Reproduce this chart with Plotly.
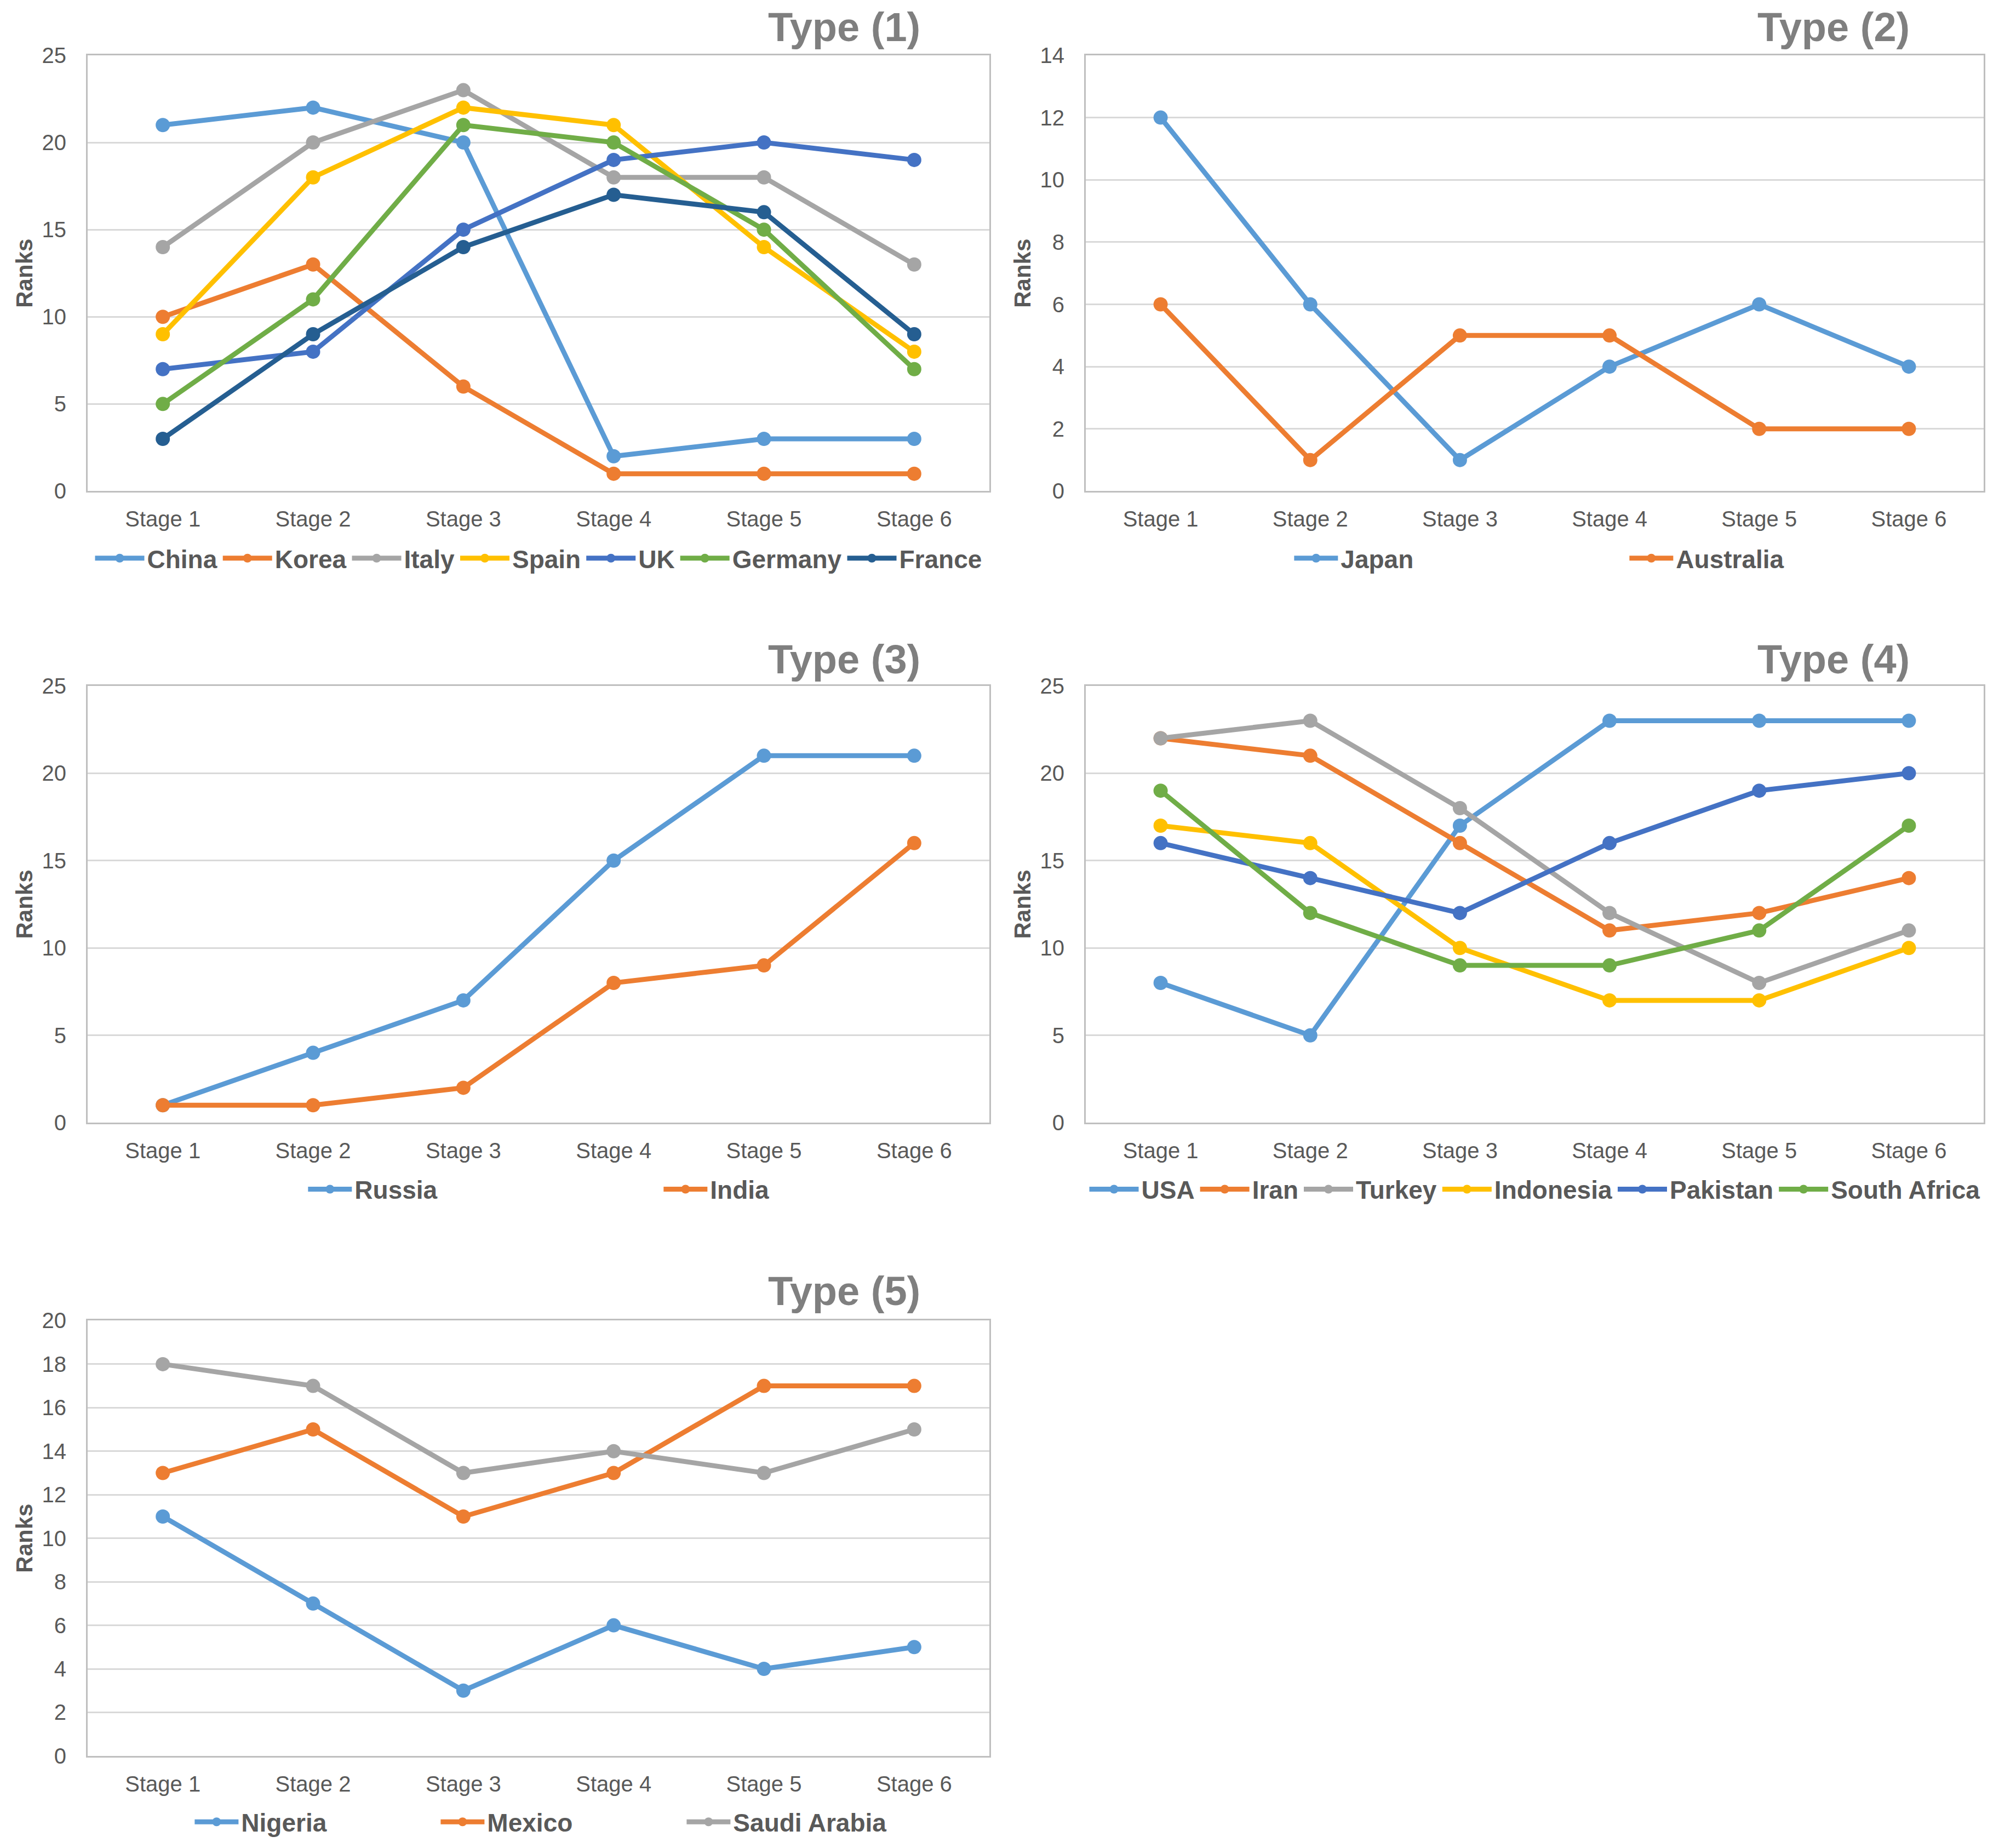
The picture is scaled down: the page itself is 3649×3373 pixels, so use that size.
import plotly.graph_objects as go

stages = ["Stage 1", "Stage 2", "Stage 3", "Stage 4", "Stage 5", "Stage 6"]

# Type (1)
china = [21, 22, 20, 2, 3, 3]
korea = [10, 13, 6, 1, 1, 1]
italy = [14, 20, 23, 18, 18, 13]
spain = [9, 18, 22, 21, 14, 8]
uk = [7, 8, 15, 19, 20, 19]
germany = [5, 11, 21, 20, 15, 7]
france = [3, 9, 14, 17, 16, 9]

# Type (2)
japan = [12, 6, 1, 4, 6, 4]
australia = [6, 1, 5, 5, 2, 2]

# Type (3)
russia = [1, 4, 7, 15, 21, 21]
india = [1, 1, 2, 8, 9, 16]

# Type (4)
usa = [8, 5, 17, 23, 23, 23]
iran = [22, 21, 16, 11, 12, 14]
turkey = [22, 23, 18, 12, 8, 11]
indonesia = [17, 16, 10, 7, 7, 10]
pakistan = [16, 14, 12, 16, 19, 20]
south_africa = [19, 12, 9, 9, 11, 17]

# Type (5)
nigeria = [11, 7, 3, 6, 4, 5]
mexico = [13, 15, 11, 13, 17, 17]
saudi = [18, 17, 13, 14, 13, 15]

C_BLUE = "#5B9BD5"
C_ORANGE = "#ED7D31"
C_GRAY = "#A5A5A5"
C_YELLOW = "#FFC000"
C_DBLUE = "#4472C4"
C_GREEN = "#70AD47"
C_NAVY = "#255E91"

panels = [
    ("Type (1)", [("China", china, C_BLUE), ("Korea", korea, C_ORANGE), ("Italy", italy, C_GRAY),
                  ("Spain", spain, C_YELLOW), ("UK", uk, C_DBLUE), ("Germany", germany, C_GREEN),
                  ("France", france, C_NAVY)], 25, 5),
    ("Type (2)", [("Japan", japan, C_BLUE), ("Australia", australia, C_ORANGE)], 14, 2),
    ("Type (3)", [("Russia", russia, C_BLUE), ("India", india, C_ORANGE)], 25, 5),
    ("Type (4)", [("USA", usa, C_BLUE), ("Iran", iran, C_ORANGE), ("Turkey", turkey, C_GRAY),
                  ("Indonesia", indonesia, C_YELLOW), ("Pakistan", pakistan, C_DBLUE),
                  ("South Africa", south_africa, C_GREEN)], 25, 5),
    ("Type (5)", [("Nigeria", nigeria, C_BLUE), ("Mexico", mexico, C_ORANGE),
                  ("Saudi Arabia", saudi, C_GRAY)], 20, 2),
]

W, H = 3649, 3373
xL = [160 / W, 1806 / W]
xR = [1982 / W, 3621 / W]
rows = [[1 - 886 / H, 1 - 80 / H], [1 - 2054 / H, 1 - 1246 / H], [1 - 3225 / H, 1 - 2420 / H]]
xdoms = [xL, xR, xL, xR, xL]
ydoms = [rows[0], rows[0], rows[1], rows[1], rows[2]]
title_x = [1682 / W, 3488 / W, 1682 / W, 3488 / W, 1682 / W]
title_y = [1 - 28 / H, 1 - 28 / H, 1 - 1197 / H, 1 - 1197 / H, 1 - 2365 / H]
legend_y = [1 - 1010 / H, 1 - 1010 / H, 1 - 2177 / H, 1 - 2177 / H, 1 - 3347 / H]
legend_entry = [None, 517, 554, None, 354]
legend_shift = [0, 0.0460, 0.0612, 0, 0.0112]
legend_itemw = [90, 80, 80, 90, 80]

FONT = "Liberation Sans, Arial, sans-serif"
TXT = "#595959"

fig = go.Figure()
layout = dict(
    width=W, height=H,
    margin=dict(l=0, r=0, t=0, b=0),
    paper_bgcolor="white", plot_bgcolor="white",
    font=dict(family=FONT, color=TXT, size=40),
    annotations=[],
)

for i, (title, series, ymax, dtick) in enumerate(panels):
    n = i + 1
    xa = "x" if n == 1 else f"x{n}"
    ya = "y" if n == 1 else f"y{n}"
    lg = "legend" if n == 1 else f"legend{n}"
    for name, vals, col in series:
        fig.add_trace(go.Scatter(
            x=stages, y=vals, name=name, mode="lines+markers",
            line=dict(color=col, width=9),
            marker=dict(color=col, size=26),
            xaxis=xa, yaxis=ya, legend=lg,
        ))
    layout[f"xaxis{'' if n == 1 else n}"] = dict(
        domain=xdoms[i], anchor=ya, type="category", range=[-0.5, 5.5],
        showline=True, linecolor="#BFBFBF", linewidth=3, mirror=True,
        showgrid=False, zeroline=False, ticks="", ticklabelstandoff=14,
        tickfont=dict(size=40, color=TXT, family=FONT),
    )
    layout[f"yaxis{'' if n == 1 else n}"] = dict(
        domain=ydoms[i], anchor=xa, range=[0, ymax], dtick=dtick, tick0=0,
        showline=True, linecolor="#BFBFBF", linewidth=3, mirror=True,
        showgrid=True, gridcolor="#D9D9D9", gridwidth=3, zeroline=False,
        ticks="", ticklabelstandoff=28,
        tickfont=dict(size=40, color=TXT, family=FONT),
        title=dict(text="Ranks", font=dict(size=42, color=TXT, family=FONT, weight="bold"), standoff=4),
    )
    leg = dict(
        orientation="h", xanchor="center", yanchor="middle",
        x=(xdoms[i][0] + xdoms[i][1]) / 2 + legend_shift[i], y=legend_y[i],
        font=dict(size=46, color=TXT, family=FONT, weight="bold"),
        itemwidth=legend_itemw[i], bgcolor="rgba(0,0,0,0)", tracegroupgap=0,
    )
    if legend_entry[i]:
        leg["entrywidth"] = legend_entry[i]
        leg["entrywidthmode"] = "pixels"
    layout[lg] = leg
    layout["annotations"].append(dict(
        text=title, xref="paper", yref="paper", x=title_x[i], y=title_y[i],
        xanchor="right", yanchor="middle", showarrow=False,
        font=dict(size=74, color="#7F7F7F", family=FONT, weight="bold"),
    ))

fig.update_layout(**layout)
fig.write_html(
    "out.html",
    config={"displayModeBar": False},
    post_script="document.documentElement.style.margin='0';document.body.style.margin='0';document.body.style.padding='0';",
)
